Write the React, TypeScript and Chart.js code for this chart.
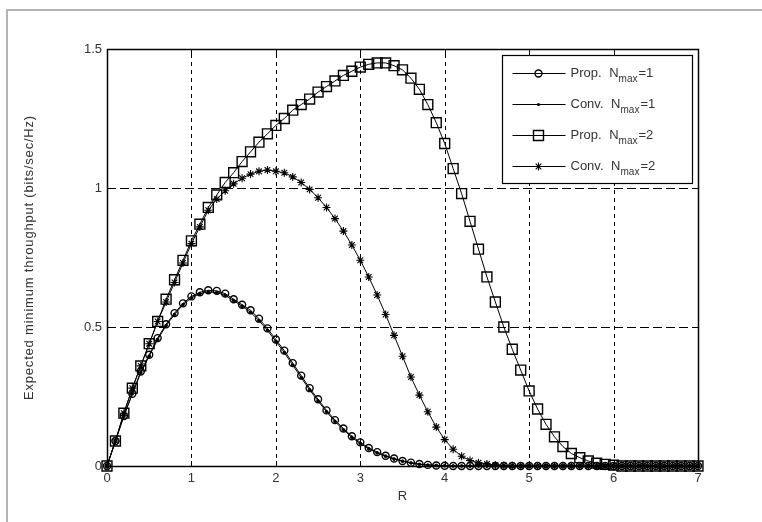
import React, { useEffect, useRef } from "react";
import { Chart, registerables } from "chart.js";

Chart.register(...registerables);

// ---- data ----
const R_VALUES = [
  0, 0.1, 0.2, 0.3, 0.4, 0.5, 0.6, 0.7, 0.8, 0.9,
  1, 1.1, 1.2, 1.3, 1.4, 1.5, 1.6, 1.7, 1.8, 1.9,
  2, 2.1, 2.2, 2.3, 2.4, 2.5, 2.6, 2.7, 2.8, 2.9,
  3, 3.1, 3.2, 3.3, 3.4, 3.5, 3.6, 3.7, 3.8, 3.9,
  4, 4.1, 4.2, 4.3, 4.4, 4.5, 4.6, 4.7, 4.8, 4.9,
  5, 5.1, 5.2, 5.3, 5.4, 5.5, 5.6, 5.7, 5.8, 5.9,
  6, 6.1, 6.2, 6.3, 6.4, 6.5, 6.6, 6.7, 6.8, 6.9,
  7,
];

const PROP_NMAX1 = [
  0, 0.09, 0.18, 0.26, 0.34, 0.40, 0.46, 0.51, 0.55, 0.585,
  0.61, 0.625, 0.632, 0.63, 0.62, 0.60, 0.58, 0.56, 0.53, 0.495,
  0.455, 0.415, 0.37, 0.325, 0.28, 0.24, 0.20, 0.165, 0.135, 0.107,
  0.085, 0.065, 0.05, 0.037, 0.027, 0.018, 0.012, 0.007, 0.004, 0.002,
  0.001, 0, 0, 0, 0, 0, 0, 0, 0, 0,
  0, 0, 0, 0, 0, 0, 0, 0, 0, 0,
  0, 0, 0, 0, 0, 0, 0, 0, 0, 0,
  0,
];

const CONV_NMAX1 = [
  0, 0.09, 0.18, 0.26, 0.335, 0.395, 0.455, 0.505, 0.545, 0.58,
  0.605, 0.62, 0.626, 0.624, 0.614, 0.595, 0.575, 0.553, 0.523, 0.488,
  0.448, 0.408, 0.363, 0.318, 0.274, 0.234, 0.195, 0.16, 0.13, 0.103,
  0.081, 0.062, 0.047, 0.035, 0.025, 0.017, 0.011, 0.006, 0.003, 0.002,
  0.001, 0, 0, 0, 0, 0, 0, 0, 0, 0,
  0, 0, 0, 0, 0, 0, 0, 0, 0, 0,
  0, 0, 0, 0, 0, 0, 0, 0, 0, 0,
  0,
];

const PROP_NMAX2 = [
  0, 0.09, 0.19, 0.28, 0.36, 0.44, 0.52, 0.60, 0.67, 0.74,
  0.81, 0.87, 0.93, 0.975, 1.02, 1.055, 1.095, 1.13, 1.165, 1.195,
  1.225, 1.25, 1.28, 1.30, 1.32, 1.345, 1.365, 1.385, 1.405, 1.42,
  1.435, 1.445, 1.45, 1.45, 1.44, 1.425, 1.395, 1.355, 1.30, 1.235,
  1.16, 1.07, 0.98, 0.88, 0.78, 0.68, 0.59, 0.50, 0.42, 0.345,
  0.27, 0.205, 0.15, 0.105, 0.07, 0.045, 0.03, 0.018, 0.01, 0.006,
  0.003, 0, 0, 0, 0, 0, 0, 0, 0, 0,
  0,
];

const CONV_NMAX2 = [
  0, 0.09, 0.19, 0.28, 0.36, 0.44, 0.52, 0.59, 0.66, 0.73,
  0.80, 0.86, 0.92, 0.96, 0.99, 1.015, 1.035, 1.05, 1.06, 1.065,
  1.06, 1.055, 1.04, 1.02, 0.995, 0.965, 0.93, 0.89, 0.845, 0.795,
  0.74, 0.68, 0.615, 0.545, 0.47, 0.395, 0.32, 0.255, 0.195, 0.14,
  0.095, 0.06, 0.035, 0.02, 0.012, 0.007, 0.004, 0.002, 0.001, 0,
  0, 0, 0, 0, 0, 0, 0, 0, 0, 0,
  0, 0, 0, 0, 0, 0, 0, 0, 0, 0,
  0,
];

const X_TICKS = [0, 1, 2, 3, 4, 5, 6, 7];
const Y_TICKS = [0, 0.5, 1, 1.5];
const X_TITLE = "R";
const Y_TITLE = "Expected minimum throughput (bits/sec/Hz)";

const LEGEND_ENTRIES = [
  { prefix: "Prop. ", sub: "max", suffix: "=1", marker: "circle" },
  { prefix: "Conv. ", sub: "max", suffix: "=1", marker: "dot" },
  { prefix: "Prop. ", sub: "max", suffix: "=2", marker: "square" },
  { prefix: "Conv. ", sub: "max", suffix: "=2", marker: "star" },
];

const FONT = "'Liberation Sans', Arial, sans-serif";

function drawMarker(ctx: CanvasRenderingContext2D, kind: string, x: number, y: number) {
  ctx.save();
  ctx.strokeStyle = "#000";
  ctx.fillStyle = "#000";
  ctx.lineWidth = kind === "star" ? 1.1 : 1.4;
  ctx.setLineDash([]);
  ctx.beginPath();
  if (kind === "circle") {
    ctx.arc(x, y, 3.5, 0, Math.PI * 2);
    ctx.stroke();
  } else if (kind === "dot") {
    ctx.arc(x, y, 1.6, 0, Math.PI * 2);
    ctx.fill();
  } else if (kind === "square") {
    ctx.rect(x - 5, y - 5, 10, 10);
    ctx.stroke();
  } else {
    const r = 4;
    ctx.moveTo(x - r, y); ctx.lineTo(x + r, y);
    ctx.moveTo(x, y - r); ctx.lineTo(x, y + r);
    const d = r * Math.SQRT1_2;
    ctx.moveTo(x - d, y - d); ctx.lineTo(x + d, y + d);
    ctx.moveTo(x - d, y + d); ctx.lineTo(x + d, y - d);
    ctx.stroke();
  }
  ctx.restore();
}

const framePlugin = {
  id: "frameGridBox",
  beforeDraw(chart: any) {
    const ctx = chart.ctx as CanvasRenderingContext2D;
    ctx.save();
    ctx.fillStyle = "#fff";
    ctx.fillRect(0, 0, chart.width, chart.height);
    ctx.strokeStyle = "#b4b4b4";
    ctx.lineWidth = 2;
    ctx.beginPath();
    ctx.moveTo(7, chart.height);
    ctx.lineTo(7, 10);
    ctx.lineTo(chart.width, 10);
    ctx.stroke();
    ctx.restore();
  },
  beforeDatasetsDraw(chart: any) {
    const ctx = chart.ctx as CanvasRenderingContext2D;
    const { left, right, top, bottom } = chart.chartArea;
    const xs = chart.scales.x;
    const ys = chart.scales.y;
    ctx.save();
    // y title, drawn with slight letter spacing
    ctx.save();
    ctx.translate(29, (top + bottom) / 2);
    ctx.rotate(-Math.PI / 2);
    ctx.font = `13px ${FONT}`;
    (ctx as any).letterSpacing = "0.8px";
    ctx.fillStyle = "#333";
    ctx.textAlign = "center";
    ctx.textBaseline = "middle";
    ctx.fillText(Y_TITLE, 0, 0);
    ctx.restore();

    ctx.strokeStyle = "#000";
    ctx.lineWidth = 1;
    // vertical grid
    ctx.setLineDash([4, 4]);
    X_TICKS.forEach((v) => {
      const px = Math.round(xs.getPixelForValue(v)) + 0.5;
      if (v === X_TICKS[0] || v === X_TICKS[X_TICKS.length - 1]) return;
      ctx.beginPath();
      ctx.moveTo(px, bottom);
      ctx.lineTo(px, top);
      ctx.stroke();
    });
    // horizontal grid
    ctx.setLineDash([9, 4]);
    Y_TICKS.forEach((v) => {
      const py = Math.round(ys.getPixelForValue(v)) + 0.5;
      if (v === Y_TICKS[0] || v === Y_TICKS[Y_TICKS.length - 1]) return;
      ctx.beginPath();
      ctx.moveTo(left, py);
      ctx.lineTo(right, py);
      ctx.stroke();
    });
    ctx.setLineDash([]);
    // box
    ctx.lineWidth = 1.5;
    ctx.strokeRect(Math.round(left) + 0.5, Math.round(top) + 0.5, Math.round(right - left), Math.round(bottom - top));
    // inner ticks
    ctx.lineWidth = 1;
    X_TICKS.forEach((v) => {
      const px = Math.round(xs.getPixelForValue(v)) + 0.5;
      ctx.beginPath();
      ctx.moveTo(px, bottom); ctx.lineTo(px, bottom - 5);
      ctx.moveTo(px, top); ctx.lineTo(px, top + 5);
      ctx.stroke();
    });
    Y_TICKS.forEach((v) => {
      const py = Math.round(ys.getPixelForValue(v)) + 0.5;
      ctx.beginPath();
      ctx.moveTo(left, py); ctx.lineTo(left + 5, py);
      ctx.moveTo(right, py); ctx.lineTo(right - 5, py);
      ctx.stroke();
    });
    ctx.restore();
  },
  afterDatasetsDraw(chart: any) {
    const ctx = chart.ctx as CanvasRenderingContext2D;
    const { right, top } = chart.chartArea;
    const boxW = 190;
    const boxH = 128;
    const bx = Math.round(right - 6 - boxW) + 0.5;
    const by = Math.round(top + 6) + 0.5;
    ctx.save();
    ctx.fillStyle = "#fff";
    ctx.fillRect(bx, by, boxW, boxH);
    ctx.strokeStyle = "#000";
    ctx.lineWidth = 1.2;
    ctx.strokeRect(bx, by, boxW, boxH);
    const rowGap = 31;
    LEGEND_ENTRIES.forEach((e, i) => {
      const ry = by + 18 + i * rowGap;
      ctx.lineWidth = 1;
      ctx.beginPath();
      ctx.moveTo(bx + 10, ry);
      ctx.lineTo(bx + 63, ry);
      ctx.stroke();
      drawMarker(ctx, e.marker, bx + 36, ry);
      ctx.fillStyle = "#333";
      ctx.textBaseline = "middle";
      ctx.textAlign = "left";
      let tx = bx + 68;
      ctx.font = `13px ${FONT}`;
      ctx.fillText(e.prefix, tx, ry);
      tx += ctx.measureText(e.prefix).width + 4;
      ctx.fillText("N", tx, ry);
      tx += ctx.measureText("N").width;
      ctx.font = `10px ${FONT}`;
      ctx.fillText(e.sub, tx, ry + 6);
      tx += ctx.measureText(e.sub).width + 1;
      ctx.font = `13px ${FONT}`;
      ctx.fillText(e.suffix, tx, ry);
    });
    ctx.restore();
  },
};

function makeDataset(label: string, values: number[], style: any) {
  return {
    label,
    data: R_VALUES.map((r, i) => ({ x: r, y: values[i] })),
    borderColor: "#000",
    borderWidth: 1,
    pointBorderColor: "#000",
    pointBorderWidth: 1.4,
    tension: 0,
    fill: false,
    clip: false,
    ...style,
  };
}

export default function App() {
  const canvasRef = useRef<HTMLCanvasElement | null>(null);

  useEffect(() => {
    const canvas = canvasRef.current;
    if (!canvas) return;
    const chart = new Chart(canvas, {
      type: "line",
      data: {
        datasets: [
          makeDataset("Prop. Nmax=1", PROP_NMAX1, {
            pointStyle: "circle",
            pointRadius: 3.5,
            pointBackgroundColor: "rgba(0,0,0,0)",
          }),
          makeDataset("Conv. Nmax=1", CONV_NMAX1, {
            pointStyle: "circle",
            pointRadius: 1.4,
            pointBorderWidth: 1,
            pointBackgroundColor: "#000",
          }),
          makeDataset("Prop. Nmax=2", PROP_NMAX2, {
            pointStyle: "rect",
            pointRadius: 7,
            pointBackgroundColor: "rgba(0,0,0,0)",
          }),
          makeDataset("Conv. Nmax=2", CONV_NMAX2, {
            pointStyle: "star",
            pointRadius: 4,
            pointBorderWidth: 1.1,
            pointBackgroundColor: "#000",
          }),
        ],
      },
      options: {
        animation: false,
        responsive: false,
        events: [],
        layout: { padding: { left: 22, right: 64, top: 49, bottom: 18 } },
        plugins: {
          legend: { display: false },
          tooltip: { enabled: false },
        },
        scales: {
          x: {
            type: "linear",
            min: 0,
            max: 7,
            afterBuildTicks: (scale: any) => {
              scale.ticks = X_TICKS.map((v) => ({ value: v }));
            },
            afterFit: (scale: any) => {
              scale.height = 38;
            },
            ticks: {
              padding: 5,
              color: "#333",
              font: { family: FONT, size: 13 },
              callback: (v: any) => String(v),
            },
            grid: { display: false, drawTicks: false },
            border: { display: false },
            title: {
              display: true,
              text: X_TITLE,
              color: "#333",
              font: { family: FONT, size: 13 },
              padding: 0,
            },
          },
          y: {
            type: "linear",
            min: 0,
            max: 1.5,
            afterBuildTicks: (scale: any) => {
              scale.ticks = Y_TICKS.map((v) => ({ value: v }));
            },
            afterFit: (scale: any) => {
              scale.width = 85;
            },
            ticks: {
              padding: 5,
              color: "#333",
              font: { family: FONT, size: 13 },
              callback: (v: any) => String(v),
            },
            grid: { display: false, drawTicks: false },
            border: { display: false },
            title: { display: false },
          },
        },
      },
      plugins: [framePlugin],
    } as any);
    return () => chart.destroy();
  }, []);

  return (
    <div style={{ position: "fixed", left: 0, top: 0, width: 762, height: 522 }}>
      <canvas ref={canvasRef} width={762} height={522} style={{ display: "block", width: 762, height: 522 }} />
    </div>
  );
}
